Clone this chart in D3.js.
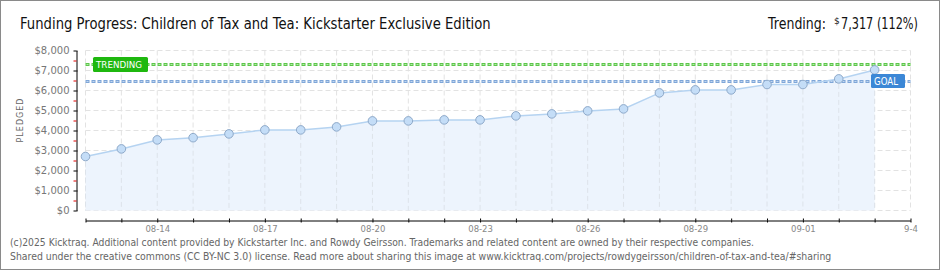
<!DOCTYPE html>
<html>
<head>
<meta charset="utf-8">
<script src="https://cdn.jsdelivr.net/npm/d3@7"></script>
<style>
  body { margin: 0; background: #fff; }
  svg { display: block; }
  text { font-family: "DejaVu Sans", sans-serif; }
</style>
</head>
<body>
<svg id="chart" width="940" height="270"></svg>
<script>
// Data
const days = ["2025-08-12","2025-08-13","2025-08-14","2025-08-15","2025-08-16","2025-08-17",
  "2025-08-18","2025-08-19","2025-08-20","2025-08-21","2025-08-22","2025-08-23","2025-08-24",
  "2025-08-25","2025-08-26","2025-08-27","2025-08-28","2025-08-29","2025-08-30","2025-08-31",
  "2025-09-01","2025-09-02","2025-09-03"];
const pledged = [2700, 3080, 3530, 3640, 3830, 4030, 4030, 4180, 4480, 4480, 4530, 4530, 4730,
  4830, 4980, 5080, 5880, 6030, 6030, 6300, 6300, 6580, 7030];
const goal = 6500;
const trending = 7317;
const yTicks = [0, 1000, 2000, 3000, 4000, 5000, 6000, 7000, 8000];
const labelDays = ["08-14", "08-17", "08-20", "08-23", "08-26", "08-29", "09-01", "09-04"];

const parse = d3.timeParse("%Y-%m-%d");
const fmtDay = d3.timeFormat("%m-%d");
const data = days.map((d, i) => ({ date: parse(d), value: pledged[i] }));

const svg = d3.select("#chart");
const condensed = "DejaVu Sans Condensed, DejaVu Sans, sans-serif";

// text squeezed horizontally to a given width
function fitText(x0, y0, str, size, width, color) {
  const g = svg.append("g");
  const t = g.append("text")
    .attr("font-size", size).attr("font-family", condensed)
    .attr("fill", color)
    .text(str);
  const natural = t.node().getComputedTextLength();
  g.attr("transform", `translate(${x0},${y0}) scale(${width / natural},1)`);
  return t;
}

// border
svg.append("rect")
  .attr("x", 0.5).attr("y", 0.5)
  .attr("width", 939).attr("height", 269)
  .attr("fill", "#fff").attr("stroke", "#8a8a8a");

// Scales
const x = d3.scaleTime()
  .domain([parse("2025-08-12"), parse("2025-09-04")])
  .range([85.5, 910.5]);
const y = d3.scaleLinear().domain([0, 8000]).range([210.5, 50.5]);

// Title
fitText(20, 29, "Funding Progress: Children of Tax and Tea: Kickstarter Exclusive Edition", 15, 471, "#111");
fitText(768, 29, "Trending:", 15, 58, "#111");
svg.append("text")
  .attr("x", 834).attr("y", 24)
  .attr("font-size", 9).attr("font-family", condensed)
  .attr("fill", "#111")
  .text("$");
fitText(841, 29, d3.format(",")(trending) + " (" + Math.floor(trending / goal * 100) + "%)", 15, 77, "#111");

// Grid
const allDays = d3.timeDay.range(x.domain()[0], d3.timeDay.offset(x.domain()[1], 1));
const grid = svg.append("g").attr("stroke", "#e2e2e2").attr("stroke-dasharray", "5,3");
grid.selectAll(".h").data(yTicks).join("line")
  .attr("x1", x.range()[0]).attr("x2", x.range()[1])
  .attr("y1", d => y(d)).attr("y2", d => y(d));
grid.selectAll(".v").data(allDays).join("line")
  .attr("x1", d => x(d)).attr("x2", d => x(d))
  .attr("y1", y(8000)).attr("y2", y(0));

// Area
svg.append("path")
  .datum(data)
  .attr("fill", "#edf4fd")
  .attr("d", d3.area().x(d => x(d.date)).y0(y(0)).y1(d => y(d.value)));

// vertical grid faintly over the area
const grid2 = svg.append("g").attr("stroke", "#dde3ea").attr("stroke-dasharray", "5,3");
grid2.selectAll("line").data(data).join("line")
  .attr("x1", d => x(d.date)).attr("x2", d => x(d.date))
  .attr("y1", d => y(d.value) + 5).attr("y2", y(0));

// Goal and trending lines
function dottedLine(val, outer, inner) {
  const yy = Math.round(y(val)) + 0.5;
  svg.append("line")
    .attr("x1", x.range()[0]).attr("x2", x.range()[1])
    .attr("y1", yy).attr("y2", yy)
    .attr("stroke", outer).attr("stroke-width", 3).attr("stroke-dasharray", "4,2");
  svg.append("line")
    .attr("x1", x.range()[0] + 1).attr("x2", x.range()[1])
    .attr("y1", yy).attr("y2", yy)
    .attr("stroke", inner).attr("stroke-width", 1).attr("stroke-dasharray", "2,4");
}
dottedLine(trending, "#5cc64a", "#b3eca6");
dottedLine(goal, "#7ea6d8", "#c2d6f0");

// Line + points
svg.append("path")
  .datum(data)
  .attr("fill", "none")
  .attr("stroke", "#b5d3f1")
  .attr("stroke-width", 1.5)
  .attr("d", d3.line().x(d => x(d.date)).y(d => y(d.value)));

svg.append("g").selectAll("circle").data(data).join("circle")
  .attr("cx", d => x(d.date)).attr("cy", d => y(d.value))
  .attr("r", 4.3)
  .attr("fill", "#c4ddf7")
  .attr("stroke", "#8ea9c9")
  .attr("stroke-width", 1);

// Labels on lines
const tY = Math.round(y(trending));
svg.append("rect")
  .attr("x", 93).attr("y", tY - 7).attr("width", 55).attr("height", 15).attr("rx", 1.5)
  .attr("fill", "#1fb80f");
fitText(96, tY + 4, "TRENDING", 9, 46, "#fff");

const gY = Math.round(y(goal));
svg.append("rect")
  .attr("x", 871).attr("y", gY - 7).attr("width", 34).attr("height", 14).attr("rx", 1.5)
  .attr("fill", "#3b87d6");
fitText(874, gY + 4, "GOAL", 10, 24, "#fff");

// Y axis
const yAxis = svg.append("g")
  .attr("transform", "translate(76.5,0)")
  .call(d3.axisLeft(y).tickValues(yTicks).tickSize(3).tickSizeOuter(0)
    .tickFormat(d => "$" + d3.format(",")(d)));
yAxis.selectAll("text").attr("font-size", 10).attr("fill", "#777").attr("x", -7)
  .attr("font-family", "DejaVu Sans, sans-serif");
yAxis.select(".domain").attr("stroke", "#000");
svg.append("g")
  .attr("transform", "translate(76.5,0)")
  .call(d3.axisRight(y).tickValues(yTicks).tickSize(1).tickFormat(""))
  .select(".domain").remove();
const minor = svg.append("g")
  .attr("transform", "translate(76.5,0)")
  .call(d3.axisLeft(y).tickValues(yTicks.slice(0, -1).map(d => d + 500)).tickSize(3).tickFormat(""));
minor.select(".domain").remove();
minor.selectAll("line").attr("stroke", "#e00000");

svg.append("text")
  .attr("transform", "translate(23,120) rotate(-90)")
  .attr("text-anchor", "middle").attr("font-size", 8).attr("letter-spacing", 1)
  .attr("fill", "#666")
  .text("PLEDGED");

// X axis
const xAxis = svg.append("g")
  .attr("transform", "translate(0,220.5)")
  .call(d3.axisBottom(x).tickValues(allDays).tickSize(2).tickSizeOuter(0)
    .tickFormat(d => {
      const s = fmtDay(d);
      if (!labelDays.includes(s)) return "";
      return s === "09-04" ? "9-4" : s;
    }));
xAxis.select(".domain").attr("stroke", "#000");
xAxis.selectAll("text").attr("font-size", 8.5).attr("fill", "#888").attr("y", 5)
  .attr("font-family", condensed);
svg.append("g")
  .attr("transform", "translate(0,220.5)")
  .call(d3.axisTop(x).tickValues(allDays).tickSize(2).tickFormat(""))
  .select(".domain").remove();

// Footer
fitText(10, 246, "(c)2025 Kicktraq. Additional content provided by Kickstarter Inc. and Rowdy Geirsson. Trademarks and related content are owned by their respective companies.", 10, 745, "#666");
fitText(10, 260, "Shared under the creative commons (CC BY-NC 3.0) license. Read more about sharing this image at www.kicktraq.com/projects/rowdygeirsson/children-of-tax-and-tea/#sharing", 10, 823, "#666");
</script>
</body>
</html>
